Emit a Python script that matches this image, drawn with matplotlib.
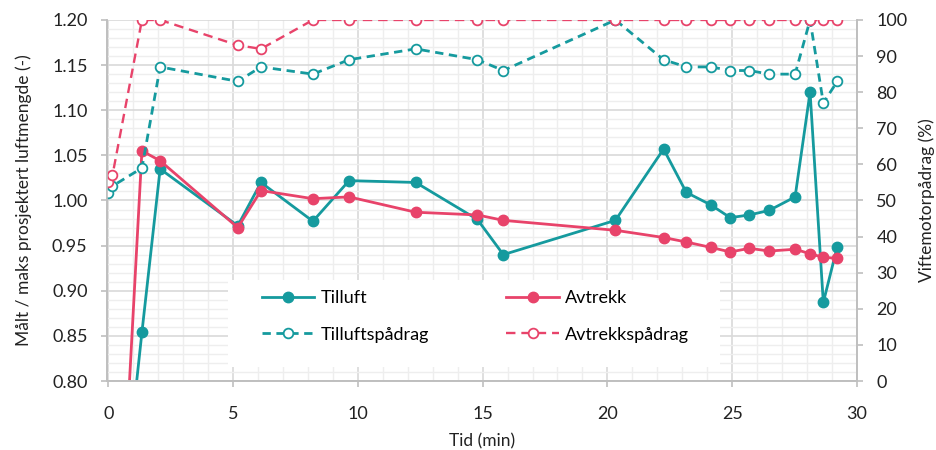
import numpy as np
import matplotlib.pyplot as plt
from matplotlib.ticker import MultipleLocator
from matplotlib.patches import Rectangle

plt.rcParams['font.family'] = ['Lato', 'DejaVu Sans']

# Tid (min) for hvert målepunkt
tid = [0.0, 0.17, 1.35, 2.08, 5.19, 6.12, 8.2, 9.65, 12.32, 14.79, 15.83,
       20.32, 22.25, 23.16, 24.15, 24.92, 25.69, 26.48, 27.52, 28.12, 28.65, 29.21]

# Målt / maks prosjektert luftmengde
tilluft = [0.50, 0.55, 0.854, 1.035, 0.972, 1.020, 0.977, 1.022, 1.020, 0.979, 0.940,
           0.978, 1.057, 1.009, 0.995, 0.981, 0.984, 0.989, 1.004, 1.120, 0.887, 0.949]
avtrekk = [0.42, 0.45, 1.055, 1.044, 0.970, 1.011, 1.002, 1.004, 0.987, 0.984, 0.978,
           0.967, 0.959, 0.954, 0.948, 0.943, 0.947, 0.944, 0.946, 0.941, 0.937, 0.936]

# Viftemotorpådrag (%)
tilluft_padrag = [52, 54, 59, 87, 83, 87, 85, 89, 92, 89, 86,
                  100, 89, 87, 87, 86, 86, 85, 85, 100, 77, 83]
avtrekk_padrag = [55, 57, 100, 100, 93, 92, 100, 100, 100, 100, 100,
                  100, 100, 100, 100, 100, 100, 100, 100, 100, 100, 100]

teal = '#159A9E'
red = '#E8436A'
gray = '#BFBFBF'
txt = '#222222'

fig = plt.figure(figsize=(9.36, 4.5), dpi=100)
ax = fig.add_axes([0.1143, 0.1533, 0.8013, 0.8023])
ax2 = ax.twinx()

l1, = ax.plot(tid, tilluft, color=teal, lw=2, marker='o', ms=7.5, label='Tilluft')
l2, = ax.plot(tid, avtrekk, color=red, lw=2, marker='o', ms=7.5, label='Avtrekk')
l3, = ax2.plot(tid, tilluft_padrag, color=teal, lw=2, ls=(0, (3, 2)), marker='o', ms=7,
               mfc='white', mew=1.3, label='Tilluftspådrag')
l4, = ax2.plot(tid, avtrekk_padrag, color=red, lw=1.7, ls=(0, (4, 2.5)), marker='o', ms=7,
               mfc='white', mew=1.3, label='Avtrekkspådrag')

ax.set_xlim(-0.05, 30)
ax.set_ylim(0.80, 1.20)
ax2.set_ylim(0, 100)

ax.xaxis.set_major_locator(MultipleLocator(5))
ax.xaxis.set_minor_locator(MultipleLocator(1))
ax.yaxis.set_major_locator(MultipleLocator(0.05))
ax.yaxis.set_minor_locator(MultipleLocator(0.01))
ax2.yaxis.set_major_locator(MultipleLocator(10))
ax.yaxis.set_major_formatter(lambda v, p: f'{v:.2f}')

ax.grid(which='major', color='#D9D9D9', lw=1.2)
ax.grid(which='minor', color='#EEEEEE', lw=1.0)
ax.set_axisbelow(True)

for a in (ax, ax2):
    for s in a.spines.values():
        s.set_color(gray)
        s.set_linewidth(1.2)
    a.spines['top'].set_visible(False)
    a.tick_params(which='major', color=gray, length=4, width=1.2, labelsize=13,
                  labelcolor=txt, pad=10)
    a.tick_params(which='minor', length=0)
ax.tick_params(axis='x', pad=14)

ax.set_xlabel('Tid (min)', fontsize=12.5, color=txt, labelpad=8)
ax.set_ylabel('Målt / maks prosjektert luftmengde (-)', fontsize=12.5, color=txt, labelpad=14)
ax2.set_ylabel('Viftemotorpådrag (%)', fontsize=12.5, color=txt, labelpad=8)

# hvit bakgrunn bak legenden
ax2.add_patch(Rectangle((0.161, 0.04), 0.656, 0.24, transform=ax2.transAxes,
                        fc='white', ec='none', zorder=1))
ax2.legend([l1, l3, l2, l4], ['Tilluft', 'Tilluftspådrag', 'Avtrekk', 'Avtrekkspådrag'],
           ncol=2, loc='upper left', bbox_to_anchor=(0.161 + 34 / 750, 0.28 - 10 / 361),
           frameon=False, fontsize=13, handlelength=2.9, handletextpad=0.35,
           columnspacing=4.3, labelspacing=1.15, borderpad=0, borderaxespad=0)

fig.savefig('out.png', dpi=100)
